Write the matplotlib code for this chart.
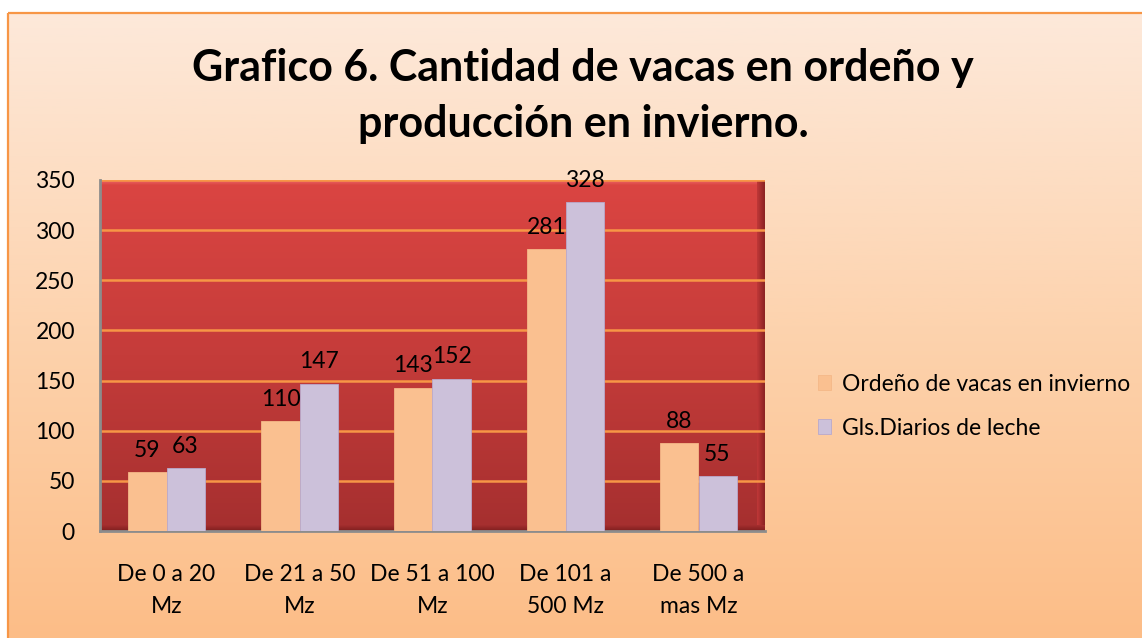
import numpy as np
import matplotlib
matplotlib.use("Agg")
import matplotlib.pyplot as plt
from matplotlib.colors import LinearSegmentedColormap
from matplotlib.patches import Rectangle

categories = ["De 0 a 20\nMz", "De 21 a 50\nMz", "De 51 a 100\nMz", "De 101 a\n500 Mz", "De 500 a\nmas Mz"]
ordeno = [59, 110, 143, 281, 88]
galones = [63, 147, 152, 328, 55]
series_names = ["Ordeño de vacas en invierno", "Gls.Diarios de leche"]
title = "Grafico 6. Cantidad de vacas en ordeño y\nproducción en invierno."

plt.rcParams['font.family'] = ['Lato', 'DejaVu Sans']
FS = 16.5

W, H = 1142, 638
fig = plt.figure(figsize=(W / 100, H / 100), dpi=100)
fig.patch.set_facecolor("white")

# background chart area with gradient
bg = fig.add_axes([0, 0, 1, 1])
bg.set_xlim(0, W)
bg.set_ylim(H, 0)
bg.axis("off")
bgcmap = LinearSegmentedColormap.from_list("bg", ["#FDE9DA", "#FDD3AE", "#FCBD87"])
grad = np.linspace(0, 1, 256).reshape(-1, 1)
bg.imshow(grad, cmap=bgcmap, extent=[8, W + 2, H + 2, 13], aspect="auto", zorder=0)
bg.add_patch(Rectangle((8, 13), W, H, fill=False, edgecolor="#F79646", lw=1.6, zorder=2))

bg.text(583, 96, title, ha="center", va="center", fontsize=31, fontweight="bold",
        color="#000000", linespacing=1.5)

# plot area
L, R, T, B = 100, 765, 180, 531
ax = fig.add_axes([L / W, (H - B) / H, (R - L) / W, (B - T) / H])
n = len(categories)
x = np.arange(n)
ax.set_xlim(-0.5, n - 0.5)
ax.set_ylim(0, 350)

redcmap = LinearSegmentedColormap.from_list("red", ["#A52F2F", "#C53C3A", "#DB4542"])
g2 = np.linspace(0, 1, 256).reshape(-1, 1)
ax.imshow(g2, cmap=redcmap, extent=[-0.5, n - 0.5, 0, 350], origin="lower", aspect="auto", zorder=0)
# bevel edges
ax.imshow(np.linspace(0, 1, 64).reshape(-1, 1), cmap=LinearSegmentedColormap.from_list("t", ["#DB4542", "#F07070"]),
          extent=[-0.5, n - 0.5, 345, 350], origin="lower", aspect="auto", zorder=0.5)
ax.imshow(np.linspace(0, 1, 64).reshape(1, -1), cmap=LinearSegmentedColormap.from_list("r", ["#C03838", "#8A2222"]),
          extent=[n - 0.56, n - 0.5, 0, 350], origin="lower", aspect="auto", zorder=0.5)
ax.imshow(np.linspace(0, 1, 64).reshape(-1, 1), cmap=LinearSegmentedColormap.from_list("b", ["#7E1E1E", "#A52F2F"]),
          extent=[-0.5, n - 0.5, 0, 5], origin="lower", aspect="auto", zorder=0.5)

for yv in range(50, 351, 50):
    ax.axhline(yv, color="#F79646", lw=1.8, zorder=1)

bw = 0.286
b1 = ax.bar(x - bw / 2, ordeno, bw, color="#FAC090", edgecolor="#F5B888", lw=0.6, zorder=3, label=series_names[0])
b2 = ax.bar(x + bw / 2, galones, bw, color="#CCC1DA", edgecolor="#B9A9CC", lw=0.6, zorder=3, label=series_names[1])
ax.bar_label(b1, padding=8, fontsize=FS, color="black")
ax.bar_label(b2, padding=8, fontsize=FS, color="black")

ax.set_yticks(range(0, 351, 50))
ax.set_xticks(x)
ax.set_xticklabels(categories, fontsize=FS, linespacing=1.6)
ax.tick_params(axis="y", labelsize=FS, length=0, pad=18)
ax.tick_params(axis="x", length=0, pad=24)
for s in ["top", "right"]:
    ax.spines[s].set_visible(False)
ax.spines["left"].set_color("#8C8C8C")
ax.spines["left"].set_linewidth(2)
ax.spines["bottom"].set_color("#8C8C8C")
ax.spines["bottom"].set_linewidth(2)

leg = fig.legend(handles=[b1, b2], labels=series_names, loc="upper left",
                 bbox_to_anchor=(797 / W, 1 - 353 / H), frameon=False, fontsize=FS,
                 handlelength=0.6, handleheight=0.6, handletextpad=0.45, labelspacing=1.0)

fig.savefig("out.png", dpi=100, facecolor=fig.get_facecolor())
